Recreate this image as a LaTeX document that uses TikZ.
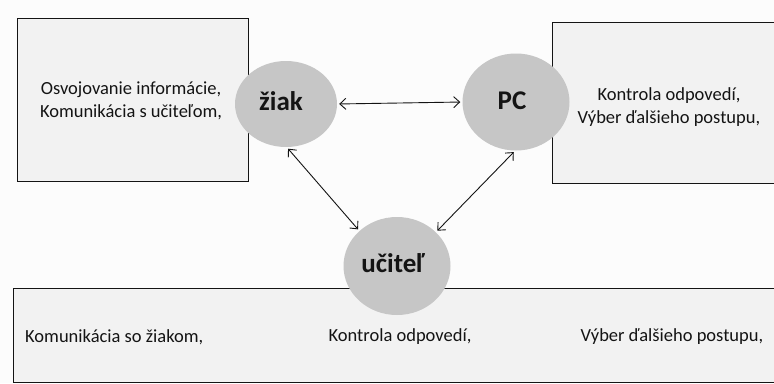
\documentclass[tikz,border=0pt]{standalone}
\usepackage{fontspec}
\setmainfont{Carlito}
\usetikzlibrary{shapes.geometric,arrows.meta}
\definecolor{ink}{HTML}{141414}
\definecolor{boxfill}{HTML}{F2F2F2}
\definecolor{ballfill}{HTML}{C6C6C6}
\definecolor{paper}{HTML}{FCFCFC}
\tikzset{
  panel/.style={draw=ink, line width=1pt, fill=boxfill},
  ball/.style={ellipse, fill=ballfill, inner sep=0pt, font=\fontsize{27}{30}\selectfont\bfseries, text=ink},
  txt/.style={font=\fontsize{18.5}{23}\selectfont, text=ink, align=center, inner sep=0pt},
  link/.style={draw=ink, line width=0.9pt, {Straight Barb[length=6pt,width=11pt]}-{Straight Barb[length=6pt,width=11pt]}, shorten <=2pt, shorten >=2pt}
}
\begin{document}
\begin{tikzpicture}[x=1pt,y=-1pt]
\useasboundingbox (0,0) rectangle (774,383);
\fill[paper] (0,0) rectangle (774,383);
\clip (0,0) rectangle (774,383);
% boxes
\draw[panel] (17,18) rectangle (248,181);
\draw[panel] (552,22) rectangle (790,183);
\draw[panel] (13,288) rectangle (790,382);
% circles
\node[ball, minimum width=102pt, minimum height=86pt] (ziak) at (286,104) {};
\node[ball, minimum width=107pt, minimum height=97pt] (pc) at (516,102) {};
\node[ball, minimum width=107pt, minimum height=98pt] (ucitel) at (397,266) {};
\node[ball, anchor=center] (ziakt) at (281,101) {žiak};
\node[ball, anchor=center] (pct) at (512,101) {PC};
\node[ball, anchor=center] (ucitelt) at (393,263) {učiteľ};
% texts
\node[txt] (lt) at (131,101) {Osvojovanie informácie,\\Komunikácia s učiteľom,};
\node[txt] (rt) at (669,107) {Kontrola odpovedí,\\Výber ďalšieho postupu,};
\node[txt, anchor=west] (b1) at (25,337) {Komunikácia so žiakom,};
\node[txt] (b2) at (400,337) {Kontrola odpovedí,};
\node[txt] (b3) at (672,337) {Výber ďalšieho postupu,};
% connectors
\draw[link] (ziak.east) -- (pc.west);
\draw[link] (ziak.-89) -- (ucitel.137);
\draw[link] (pc.-91) -- (ucitel.41);
\end{tikzpicture}
\end{document}
